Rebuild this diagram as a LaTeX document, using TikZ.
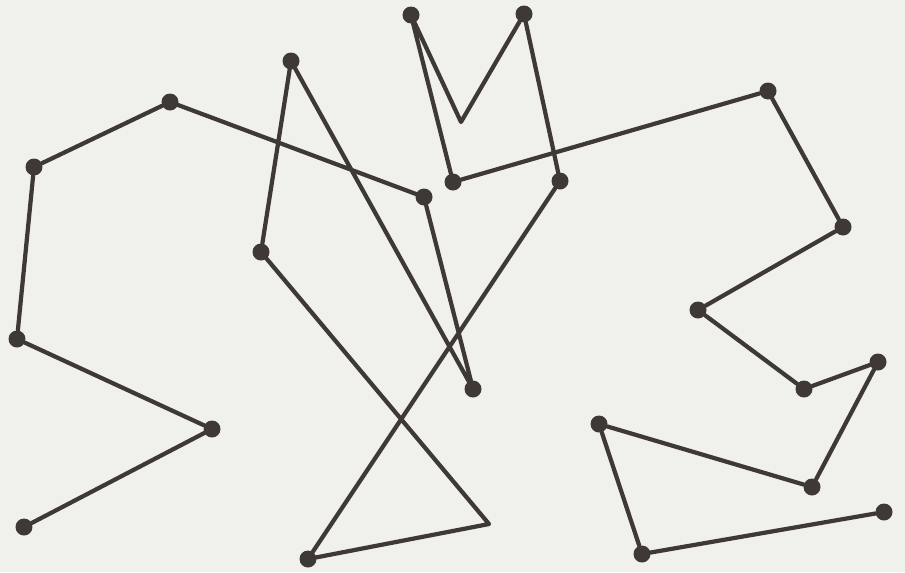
\documentclass[tikz,border=0pt]{standalone}
\usepackage{xcolor}
\definecolor{inkDark}{HTML}{3E3837}
\definecolor{paperWhite}{HTML}{F0F0EC}
\usepackage{tikz}
\usetikzlibrary{positioning, calc}

\begin{document}
\begin{tikzpicture}[
    x=0.02cm, y=-0.02cm,
    % --- Estilos ---
    dot/.style={circle, fill=inkDark, draw=none, minimum size=0.34cm, inner sep=0pt},
    trace/.style={draw=inkDark, line width=2.4pt, line join=round, line cap=round}
]

% ====== Fondo (papel) ======
\fill[paperWhite] (0,0) rectangle (905,572);
\useasboundingbox (0,0) rectangle (905,572);

% ====== Puntos: mitad izquierda ======
\node[dot] (pU) at (24,527) {};
\node[dot] (pQ) at (212,429) {};
\node[dot] (pM) at (17,339) {};
\node[dot] (pF) at (34,167) {};
\node[dot] (pD) at (170,102) {};
\node[dot] (pI) at (424,197) {};
\node[dot] (pP) at (473,389) {};
\node[dot] (pC) at (291,61) {};
\node[dot] (pK) at (261,252) {};
\coordinate (cX) at (489,524);
\node[dot] (pV) at (308,559) {};
\node[dot] (pH) at (560,181) {};
\node[dot] (pB) at (524,14) {};
\coordinate (cW) at (461,122);
\node[dot] (pA) at (411,15) {};
\node[dot] (pG) at (453,182) {};

% ====== Puntos: mitad derecha ======
\node[dot] (pE) at (768,91) {};
\node[dot] (pJ) at (843,227) {};
\node[dot] (pL) at (698,310) {};
\node[dot] (pO) at (804,389) {};
\node[dot] (pN) at (878,362) {};
\node[dot] (pS) at (812,487) {};
\node[dot] (pR) at (599,424) {};
\node[dot] (pW) at (642,554) {};
\node[dot] (pT) at (884,512) {};

% ====== Trazo continuo ======
\draw[trace] (pU) -- (pQ) -- (pM) -- (pF) -- (pD) -- (pI) -- (pP) -- (pC)
    -- (pK) -- (cX) -- (pV) -- (pH) -- (pB) -- (cW) -- (pA) -- (pG);
\draw[trace] (pG) -- (pE) -- (pJ) -- (pL) -- (pO) -- (pN) -- (pS) -- (pR)
    -- (pW) -- (pT);

\end{tikzpicture}
\end{document}
